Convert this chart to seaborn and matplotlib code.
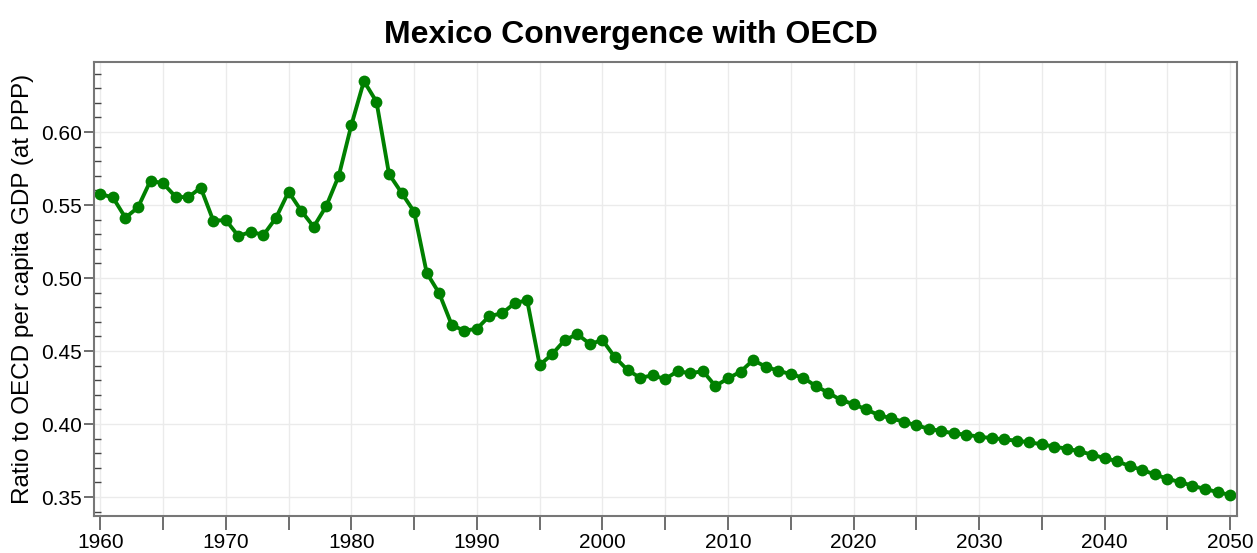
import matplotlib
matplotlib.use("Agg")
import matplotlib.pyplot as plt
import seaborn as sns
import pandas as pd
import numpy as np
from matplotlib.ticker import MultipleLocator, FuncFormatter

years = list(range(1960, 2051))
ratio = [
    0.5575, 0.5553, 0.5413, 0.5484, 0.5667, 0.5649, 0.5557, 0.5553, 0.5619, 0.5393,  # 1960-69
    0.5397, 0.5288, 0.5317, 0.5295, 0.5413, 0.5591, 0.5461, 0.5351, 0.5493, 0.5701,  # 1970-79
    0.6048, 0.6349, 0.6208, 0.5712, 0.5584, 0.5454, 0.5036, 0.4895, 0.4678, 0.4639,  # 1980-89
    0.4653, 0.4740, 0.4758, 0.4827, 0.4849, 0.4404, 0.4479, 0.4575, 0.4616, 0.4548,  # 1990-99
    0.4575, 0.4457, 0.4370, 0.4317, 0.4333, 0.4308, 0.4363, 0.4347, 0.4363, 0.4260,  # 2000-09
    0.4313, 0.4358, 0.4438, 0.4393, 0.4365, 0.4342, 0.4317, 0.4260, 0.4214, 0.4164,  # 2010-19
    0.4137, 0.4100, 0.4062, 0.4039, 0.4016, 0.3991, 0.3968, 0.3952, 0.3936, 0.3927,  # 2020-29
    0.3913, 0.3904, 0.3895, 0.3886, 0.3875, 0.3861, 0.3845, 0.3831, 0.3813, 0.3790,  # 2030-39
    0.3767, 0.3745, 0.3712, 0.3685, 0.3655, 0.3625, 0.3603, 0.3577, 0.3555, 0.3534,  # 2040-49
    0.3514,                                                                           # 2050
]

title = "Mexico Convergence with OECD"
ylabel = "Ratio to OECD per capita GDP (at PPP)"

df = pd.DataFrame({"year": years, "ratio": ratio})

sns.set_theme(style="white")
plt.rcParams["font.family"] = ["Liberation Sans", "DejaVu Sans"]
plt.rcParams["text.color"] = "black"
plt.rcParams["axes.labelcolor"] = "black"
plt.rcParams["xtick.color"] = "black"
plt.rcParams["ytick.color"] = "black"

fig = plt.figure(figsize=(12.57, 5.53), dpi=100)
ax = fig.add_axes([0.0748, 0.0669, 0.9093, 0.8210])

sns.lineplot(data=df, x="year", y="ratio", ax=ax, color="#008000",
             linewidth=2.8, marker="o", markersize=8.5, markeredgewidth=0,
             markeredgecolor="#008000")

ax.set_xlim(1959.5, 2050.55)
ax.set_ylim(0.337, 0.648)

ax.xaxis.set_major_locator(MultipleLocator(5))
ax.xaxis.set_major_formatter(FuncFormatter(lambda v, p: f"{int(round(v))}" if int(round(v)) % 10 == 0 else ""))
ax.yaxis.set_major_locator(MultipleLocator(0.05))
ax.yaxis.set_minor_locator(MultipleLocator(0.01))
ax.yaxis.set_major_formatter(FuncFormatter(lambda v, p: f"{v:.2f}"))

ax.grid(True, which="major", color="#ebebeb", linewidth=1.0)
ax.set_axisbelow(True)

ax.tick_params(axis="x", which="major", direction="out", length=10, width=1.2,
               color="#555555", labelcolor="black", labelsize=15, pad=2, bottom=True)
ax.tick_params(axis="y", which="major", direction="out", length=7, width=1.2,
               color="#555555", labelcolor="black", labelsize=15, pad=2, left=True)
ax.tick_params(axis="y", which="minor", direction="in", length=5, width=1.0,
               color="#444444", left=True)

for s in ax.spines.values():
    s.set_color("#777777")
    s.set_linewidth(1.5)
    s.set_visible(True)

ax.set_xlabel("")
ax.set_ylabel(ylabel, fontsize=17.5, labelpad=5, color="black")
fig.text(631 / 1257, 1 - 43 / 553, title, fontsize=23, fontweight="bold",
         ha="center", va="baseline", color="black")

fig.savefig("out.png", dpi=100, facecolor="white")
